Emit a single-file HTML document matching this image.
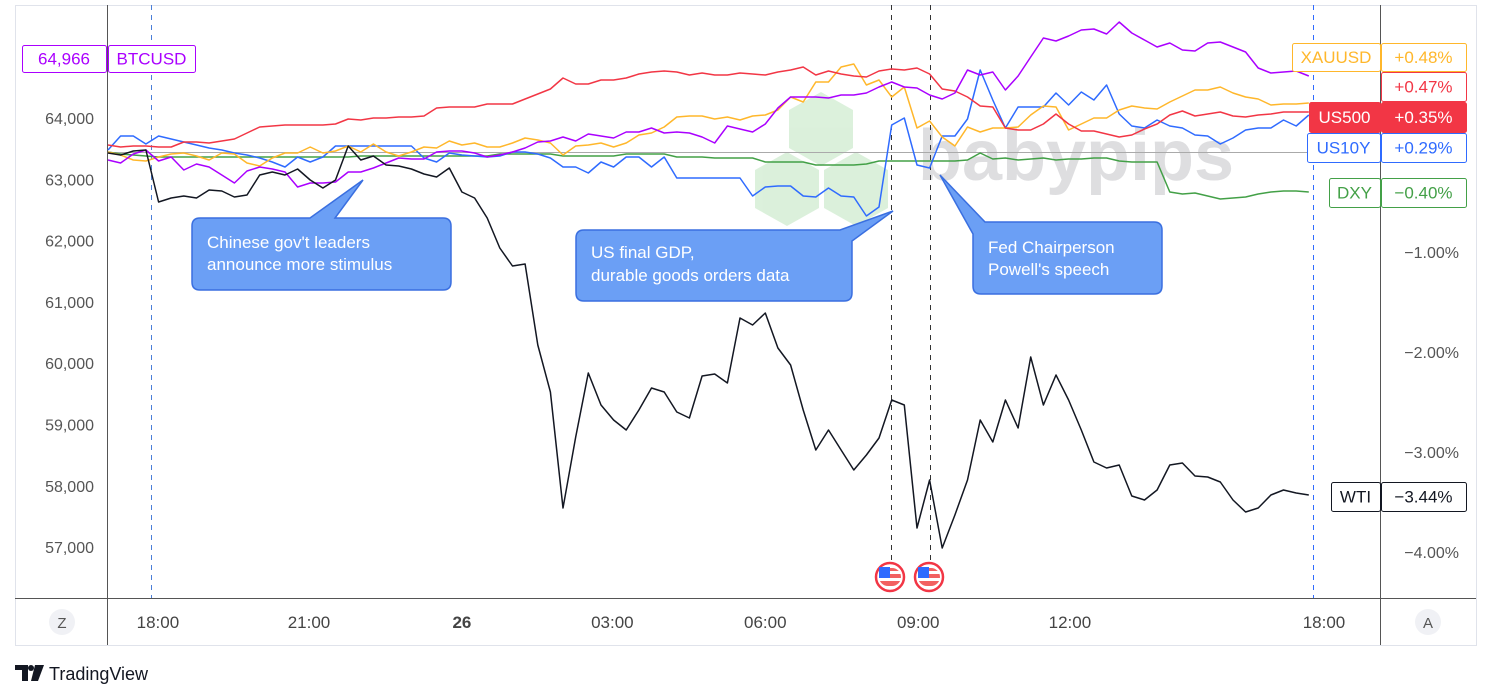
<!DOCTYPE html>
<html><head><meta charset="utf-8"><style>
body{margin:0;background:#fff;width:1491px;height:699px;overflow:hidden;font-family:"Liberation Sans",sans-serif}
svg{position:absolute;left:0;top:0}
</style></head><body>
<svg id="c" width="1491" height="699">
<rect x="15.5" y="5.5" width="1461" height="640" fill="#fff" stroke="#e0e3eb"/>
<g opacity="0.55">
<polygon points="821,92 853,110 853,148 821,166 789,148 789,110" fill="#bfe5bf"/>
<polygon points="787,152 819,170 819,208 787,226 755,208 755,170" fill="#bfe5bf"/>
<polygon points="856,152 888,170 888,208 856,226 824,208 824,170" fill="#bfe5bf"/>
<text x="918" y="180" font-size="72" font-weight="bold" fill="#c4c4c8">babypips</text>
</g>
<line x1="107.5" y1="5" x2="107.5" y2="645" stroke="#555"/>
<line x1="1380.5" y1="5" x2="1380.5" y2="645" stroke="#555"/>
<line x1="15" y1="598.5" x2="1476" y2="598.5" stroke="#555"/>
<line x1="108" y1="152.5" x2="1380" y2="152.5" stroke="#aaa"/>
<line x1="151.5" y1="5" x2="151.5" y2="598" stroke="#4a7ed8" stroke-dasharray="5,5"/>
<line x1="1313.5" y1="5" x2="1313.5" y2="598" stroke="#2f6bff" stroke-dasharray="5,5"/>
<line x1="891.5" y1="5" x2="891.5" y2="560" stroke="#333" stroke-dasharray="5,5"/>
<line x1="930.5" y1="5" x2="930.5" y2="560" stroke="#333" stroke-dasharray="5,5"/>
<g id="series"></g>
<g id="axes"></g>
<g>
<path d="M200,218 H310 L363,180 L335,218 H443 Q451,218 451,226 V282 Q451,290 443,290 H200 Q192,290 192,282 V226 Q192,218 200,218 Z" fill="#6b9ff5" stroke="#3a6fe0" stroke-width="1.5"/>
<text x="207" y="248" font-size="17" fill="#fff">Chinese gov't leaders</text>
<text x="207" y="270" font-size="17" fill="#fff">announce more stimulus</text>
</g>
<g>
<path d="M584,230 H840 L893,211 L852,241 V293 Q852,301 844,301 H584 Q576,301 576,293 V238 Q576,230 584,230 Z" fill="#6b9ff5" stroke="#3a6fe0" stroke-width="1.5"/>
<text x="591" y="258" font-size="17" fill="#fff">US final GDP,</text>
<text x="591" y="281" font-size="17" fill="#fff">durable goods orders data</text>
</g>
<g>
<path d="M940,175 L985,222 H1154 Q1162,222 1162,230 V286 Q1162,294 1154,294 H981 Q973,294 973,286 V234 Z" fill="#6b9ff5" stroke="#3a6fe0" stroke-width="1.5"/>
<text x="988" y="253" font-size="17" fill="#fff">Fed Chairperson</text>
<text x="988" y="275" font-size="17" fill="#fff">Powell's speech</text>
</g>
<g>
<circle cx="890" cy="577" r="14" fill="#fff" stroke="#f23645" stroke-width="2.5"/>
<rect x="879" y="568" width="22" height="18" rx="9" fill="#f26060"/><rect x="879" y="571" width="22" height="3" fill="#fff"/><rect x="879" y="578" width="22" height="3" fill="#fff"/><rect x="879" y="567" width="11" height="11" fill="#2f6bff"/>
</g>
<g>
<circle cx="929" cy="577" r="14" fill="#fff" stroke="#f23645" stroke-width="2.5"/>
<rect x="918" y="568" width="22" height="18" rx="9" fill="#f26060"/><rect x="918" y="571" width="22" height="3" fill="#fff"/><rect x="918" y="578" width="22" height="3" fill="#fff"/><rect x="918" y="567" width="11" height="11" fill="#2f6bff"/>
</g>
<circle cx="62" cy="622" r="13" fill="#f0f1f5"/>
<text x="62" y="628" font-size="15" fill="#555" text-anchor="middle">Z</text>
<circle cx="1428" cy="622" r="13" fill="#f0f1f5"/>
<text x="1428" y="628" font-size="15" fill="#555" text-anchor="middle">A</text>
<g>
<path d="M15,665 H28 V681 H22 V670 H15 Z" fill="#131722"/><circle cx="31" cy="668" r="3" fill="#131722"/><path d="M35,665 H44 L38,681 H31 Z" fill="#131722"/>
<text x="49" y="680" font-size="18" fill="#131722">TradingView</text>
</g>
</svg>
<script>
const wti=[-0.01,-0.03,0.01,0.02,-0.50,-0.46,-0.44,-0.46,-0.38,-0.39,-0.45,-0.43,-0.23,-0.20,-0.23,-0.17,-0.28,-0.36,-0.28,0.06,-0.08,-0.04,-0.13,-0.14,-0.17,-0.22,-0.25,-0.16,-0.40,-0.46,-0.66,-0.96,-1.14,-1.12,-1.93,-2.40,-3.56,-2.85,-2.21,-2.53,-2.68,-2.78,-2.58,-2.36,-2.40,-2.60,-2.66,-2.24,-2.22,-2.31,-1.66,-1.73,-1.61,-1.96,-2.13,-2.58,-2.98,-2.78,-2.98,-3.18,-3.03,-2.86,-2.48,-2.53,-3.76,-3.28,-3.96,-3.63,-3.28,-2.68,-2.90,-2.48,-2.76,-2.05,-2.53,-2.23,-2.48,-2.78,-3.10,-3.16,-3.13,-3.44,-3.48,-3.38,-3.13,-3.11,-3.24,-3.25,-3.30,-3.48,-3.60,-3.56,-3.43,-3.38,-3.41,-3.43];
const us500=[0.07,0.05,0.06,0.06,0.05,0.05,0.10,0.10,0.09,0.11,0.13,0.19,0.25,0.26,0.27,0.27,0.27,0.27,0.28,0.33,0.32,0.34,0.34,0.35,0.35,0.36,0.44,0.45,0.45,0.45,0.48,0.48,0.48,0.53,0.58,0.63,0.74,0.68,0.68,0.72,0.72,0.74,0.78,0.80,0.81,0.80,0.77,0.79,0.77,0.77,0.79,0.78,0.77,0.80,0.82,0.85,0.77,0.81,0.78,0.76,0.75,0.81,0.83,0.82,0.84,0.78,0.63,0.61,0.55,0.46,0.45,0.24,0.22,0.22,0.28,0.38,0.28,0.21,0.21,0.18,0.15,0.17,0.23,0.28,0.37,0.41,0.36,0.38,0.40,0.36,0.35,0.37,0.38,0.40,0.40,0.40];
const xauusd=[0.00,-0.03,-0.08,-0.09,-0.05,-0.02,-0.01,-0.04,-0.08,-0.01,-0.02,-0.11,-0.14,-0.06,-0.01,-0.01,0.05,-0.01,0.01,0.06,0.00,0.08,0.00,-0.04,0.00,0.05,0.04,0.11,0.07,0.09,0.05,0.05,0.09,0.14,0.12,0.09,-0.03,0.06,0.07,0.09,0.05,0.09,0.17,0.19,0.25,0.35,0.36,0.36,0.33,0.35,0.32,0.36,0.37,0.42,0.55,0.50,0.70,0.70,0.85,0.88,0.67,0.72,0.55,0.65,0.24,0.31,0.15,0.06,0.25,0.20,0.24,0.24,0.25,0.37,0.46,0.45,0.22,0.28,0.34,0.34,0.42,0.46,0.44,0.43,0.50,0.56,0.62,0.62,0.65,0.59,0.55,0.53,0.47,0.48,0.48,0.49];
const us10y=[0.02,0.16,0.16,0.08,0.16,0.13,0.10,0.07,0.04,0.02,-0.01,-0.03,-0.06,-0.10,-0.15,-0.05,-0.10,-0.05,0.06,0.06,0.06,0.06,0.06,0.06,0.06,-0.06,-0.10,-0.01,-0.03,-0.04,-0.05,-0.04,0.00,0.00,-0.02,-0.06,-0.15,-0.15,-0.21,-0.10,-0.15,-0.05,-0.05,-0.15,-0.05,-0.26,-0.26,-0.26,-0.26,-0.26,-0.26,-0.44,-0.35,-0.34,-0.34,-0.44,-0.45,-0.36,-0.44,-0.45,-0.64,-0.55,0.27,0.34,-0.13,-0.16,0.16,0.16,0.33,0.82,0.52,0.24,0.45,0.45,0.45,0.59,0.47,0.60,0.52,0.67,0.38,0.26,0.24,0.32,0.26,0.24,0.17,0.16,0.08,0.14,0.22,0.24,0.24,0.32,0.26,0.37];
const dxy=[0.00,-0.02,-0.03,-0.04,-0.05,-0.05,-0.05,-0.05,-0.05,-0.05,-0.05,-0.05,-0.05,-0.05,-0.05,-0.05,-0.05,-0.05,-0.05,-0.05,-0.04,-0.04,-0.04,-0.04,-0.04,-0.04,-0.04,-0.04,-0.04,-0.04,-0.04,-0.02,-0.02,-0.02,-0.02,-0.02,-0.04,-0.04,-0.04,-0.04,-0.04,-0.02,-0.02,-0.02,-0.02,-0.05,-0.05,-0.05,-0.06,-0.06,-0.06,-0.06,-0.10,-0.10,-0.10,-0.10,-0.13,-0.13,-0.13,-0.13,-0.12,-0.09,-0.09,-0.09,-0.09,-0.09,-0.09,-0.09,-0.08,-0.01,-0.07,-0.06,-0.08,-0.07,-0.06,-0.08,-0.07,-0.07,-0.06,-0.06,-0.09,-0.10,-0.10,-0.10,-0.40,-0.42,-0.41,-0.44,-0.47,-0.46,-0.45,-0.42,-0.40,-0.39,-0.39,-0.40];
const btcusd=[63315,63266,63413,63478,63299,63364,63152,63250,63201,63070,62940,63136,63201,63168,63119,62875,62940,62940,62956,63119,63119,63185,63266,63348,63331,63331,63445,63462,63462,63429,63364,63397,63445,63511,63609,63625,63690,63625,63739,63706,63674,63772,63772,63837,63755,63772,63755,63690,63592,63870,63821,63772,63902,64163,64343,64343,64343,64326,64375,64375,64408,64506,64587,64506,64489,64375,64310,64408,64783,64701,64750,64457,64685,64995,65305,65256,65337,65435,65452,65370,65566,65386,65272,65158,65223,65109,65093,65223,65239,65158,65076,64815,64734,64750,64766,64685];
const timeTicks=["18:00","21:00","26","03:00","06:00","09:00","12:00","18:00"];
const timeTickIdx=[3.95,15.9,28.0,39.9,52.0,64.1,76.1,96.2];
const priceTicks=[64000,63000,62000,61000,60000,59000,58000,57000];
const pctTicks=[-1,-2,-3,-4];

const NS="http://www.w3.org/2000/svg";
const X0=108,STEP=12.64;
function xs(i){return X0+i*STEP;}
function yPct(p){return 152-p*100;}
function yPrice(v){return 118+(64000-v)*0.0613;}
const sg=document.getElementById('series'),ag=document.getElementById('axes');
function mk(tag,attrs,parent){const e=document.createElementNS(NS,tag);for(const k in attrs)e.setAttribute(k,attrs[k]);parent.appendChild(e);return e;}
function line(vals,yf,color,name){
  const d=vals.map((v,i)=>(i?'L':'M')+xs(i).toFixed(1)+','+yf(v).toFixed(1)).join(' ');
  const p=mk('path',{d:d,fill:'none',stroke:color,'stroke-width':1.5,'stroke-linejoin':'round'},sg);
  
  
}
line(dxy,yPct,'#43a047','dxy-line');
line(us10y,yPct,'#2f6bff','us10y-line');
line(xauusd,yPct,'#ffb72b','xauusd-line');
line(us500,yPct,'#f23645','us500-line');
line(btcusd,yPrice,'#aa00ff','btcusd-line');
line(wti,yPct,'#131722','wti-line');

priceTicks.forEach(v=>{const t=mk('text',{x:94,y:yPrice(v)+6,'font-size':16,fill:'#555','text-anchor':'end'},ag);t.textContent=v.toLocaleString('en-US');

});
pctTicks.forEach(v=>{const t=mk('text',{x:1459,y:yPct(v)+6,'font-size':16,fill:'#555','text-anchor':'end'},ag);t.textContent='\u2212'+Math.abs(v).toFixed(2)+'%';

});
timeTicks.forEach((s,k)=>{const t=mk('text',{x:xs(timeTickIdx[k]),y:628,'font-size':17,fill:'#444','text-anchor':'middle','font-weight':s==='26'?'bold':'normal'},ag);t.textContent=s;

});

function tag(x,y,w,h,txt,color,filled,name){
  const g=mk('g',{},ag);
  
  
  mk('rect',{x:x+0.5,y:y+0.5,width:w,height:h,rx:2,fill:filled?color:'#fff',stroke:color},g);
  const t=mk('text',{x:x+w/2,y:y+h/2+6,'font-size':17,fill:filled?'#fff':color,'text-anchor':'middle'},g);t.textContent=txt;
}
tag(22,45,84,27,'64,966','#aa00ff',false,'btc-price-label');
tag(108,45,87,27,'BTCUSD','#aa00ff',false,'btcusd-label');
tag(1292,43,88,28,'XAUUSD','#ffb72b',false,'xauusd-label');
tag(1381,43,85,28,'+0.48%','#ffb72b',false,'xauusd-value');
tag(1381,72,85,29,'+0.47%','#f23645',false,'us500-ext-value');
tag(1309,102,71,30,'US500','#f23645',true,'us500-label');
tag(1381,102,85,30,'+0.35%','#f23645',true,'us500-value');
tag(1307,133,73,29,'US10Y','#2f6bff',false,'us10y-label');
tag(1381,133,85,29,'+0.29%','#2f6bff',false,'us10y-value');
tag(1329,178,51,29,'DXY','#43a047',false,'dxy-label');
tag(1381,178,85,29,'\u22120.40%','#43a047',false,'dxy-value');
tag(1331,482,49,29,'WTI','#131722',false,'wti-label');
tag(1381,482,85,29,'\u22123.44%','#131722',false,'wti-value');
</script>
</body></html>
